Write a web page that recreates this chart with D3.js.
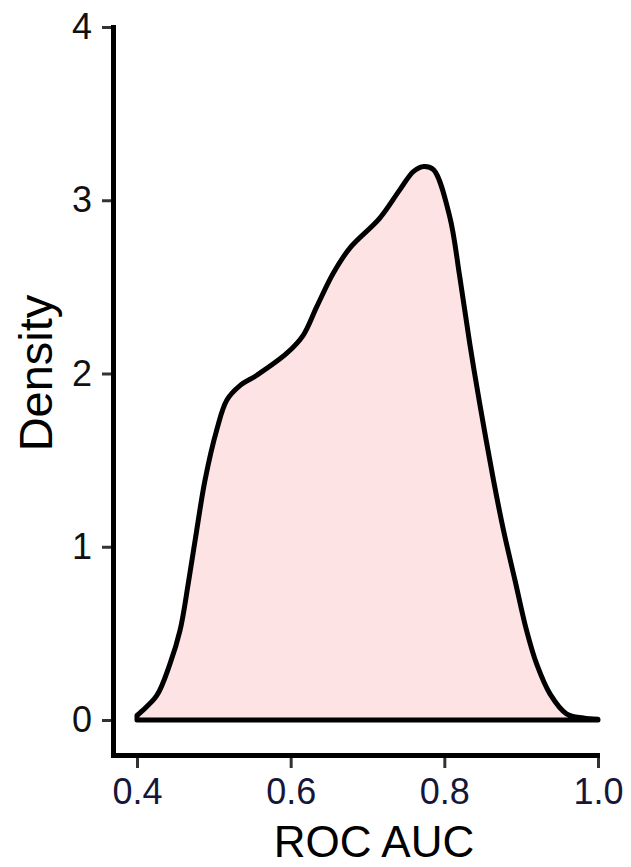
<!DOCTYPE html>
<html>
<head>
<meta charset="utf-8">
<script src="https://cdn.jsdelivr.net/npm/d3@7"></script>
<style>
  body { margin: 0; background: #fff; }
  text { font-family: "Liberation Sans", Arial, sans-serif; }
</style>
</head>
<body>
<svg width="631" height="867"></svg>
<script>
// density estimate of ROC AUC
var aucValues = [0.400, 0.406, 0.4256, 0.443, 0.456, 0.4668, 0.4777, 0.4885, 0.5037,
  0.517, 0.534, 0.556, 0.595, 0.6165, 0.634, 0.6556, 0.677, 0.716,
  0.742, 0.760, 0.7735, 0.786, 0.807, 0.820, 0.833, 0.846, 0.864,
  0.877, 0.892, 0.907, 0.920, 0.9375, 0.959, 0.981, 1.000];
var densityValues = [0.026, 0.05, 0.14, 0.325, 0.517, 0.79, 1.095, 1.384, 1.673,
  1.847, 1.93, 1.99, 2.117, 2.222, 2.386, 2.58, 2.724, 2.897,
  3.06, 3.167, 3.195, 3.176, 2.906, 2.56, 2.175, 1.828, 1.384,
  1.095, 0.806, 0.517, 0.325, 0.151, 0.036, 0.012, 0.004];
var xTicks = [0.4, 0.6, 0.8, 1.0];
var yTicks = [0, 1, 2, 3, 4];

(function() {
  var svg = d3.select("svg");

  var x = d3.scaleLinear().domain([0.4, 1.0]).range([137, 598]);
  var y = d3.scaleLinear().domain([0, 4]).range([720, 27]);

  var points = aucValues.map(function(v, i) {
    return { x: v, y: densityValues[i] };
  });

  var area = d3.area()
      .x(function(d) { return x(d.x); })
      .y0(y(0))
      .y1(function(d) { return y(d.y); })
      .curve(d3.curveCatmullRom.alpha(0.5));

  svg.append("path")
      .datum(points)
      .attr("d", function(d) { return area(d) + "Z"; })
      .style("fill", "#fde3e3")
      .style("stroke", "#000")
      .style("stroke-width", 5)
      .style("stroke-linejoin", "round");

  // y axis
  var yAxis = svg.append("g")
      .attr("transform", "translate(113,0)")
      .call(d3.axisLeft(y).tickValues(yTicks).tickSize(11).tickPadding(10)
        .tickFormat(d3.format("d")));
  yAxis.select(".domain").remove();
  yAxis.selectAll("line").style("stroke", "#333").style("stroke-width", 3);
  yAxis.selectAll("text").style("font-size", "36px").style("fill", "#111");

  // x axis
  var xAxis = svg.append("g")
      .attr("transform", "translate(0,755)")
      .call(d3.axisBottom(x).tickValues(xTicks).tickSize(13).tickPadding(10)
        .tickFormat(d3.format(".1f")));
  xAxis.select(".domain").remove();
  xAxis.selectAll("line").style("stroke", "#333").style("stroke-width", 3);
  xAxis.selectAll("text").style("font-size", "36px").style("fill", "#16163a");

  // axis lines (classic theme)
  svg.append("path")
      .attr("d", "M113.5,25V755.5H600")
      .style("fill", "none")
      .style("stroke", "#000")
      .style("stroke-width", 5)
      .style("stroke-linecap", "butt")
      .style("stroke-linejoin", "miter");

  svg.append("text")
      .attr("x", 374)
      .attr("y", 857)
      .attr("text-anchor", "middle")
      .style("font-size", "44px")
      .style("fill", "#000")
      .text("ROC AUC");

  svg.append("text")
      .attr("transform", "translate(52,373) rotate(-90)")
      .attr("text-anchor", "middle")
      .style("font-size", "47px")
      .style("fill", "#000")
      .text("Density");
})();
</script>
</body>
</html>
